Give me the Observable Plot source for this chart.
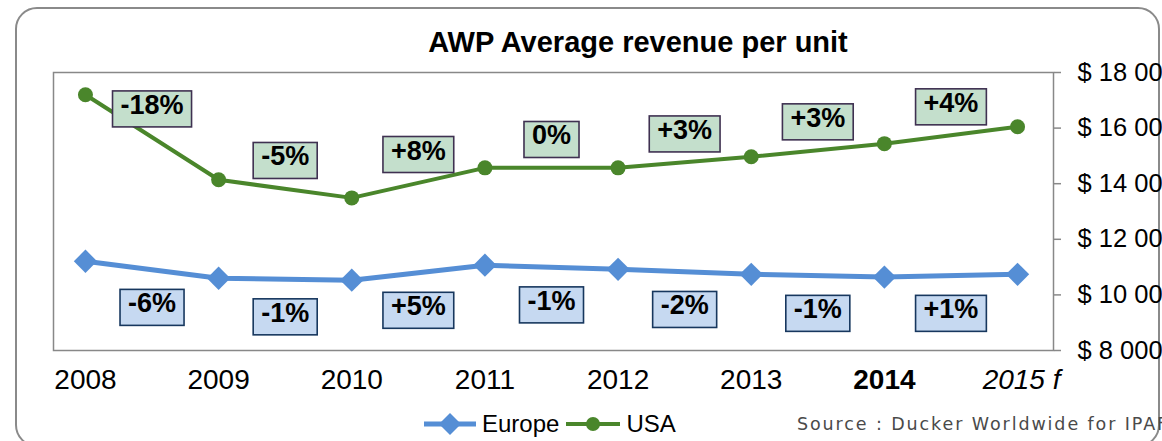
<!DOCTYPE html>
<html><head><meta charset="utf-8">
<script src="https://cdn.jsdelivr.net/npm/d3@7"></script>
<script src="https://cdn.jsdelivr.net/npm/@observablehq/plot@0.6"></script>
<style>
html,body{margin:0;padding:0;background:#fff;overflow:hidden;}
#wrap{position:relative;width:1162px;height:441px;font-family:"Liberation Sans",Arial,sans-serif;overflow:hidden;}
#wrap svg{position:absolute;left:0;top:0;}
#border{position:absolute;left:15px;top:7px;width:1145px;height:440px;border:2px solid #8a8a8a;border-radius:22px;box-sizing:border-box;}
#title{position:absolute;left:638px;top:28px;transform:translateX(-50%);font-size:29px;line-height:29px;font-weight:bold;white-space:nowrap;color:#000;}
#legend{position:absolute;left:423px;top:410px;height:28px;display:flex;align-items:center;font-size:24px;color:#000;white-space:nowrap;}
#legend .item{display:flex;align-items:center;margin-right:6px;}
#legend svg{position:static;margin-right:5px;}
#source{position:absolute;left:797px;top:414px;font-family:"DejaVu Sans",sans-serif;font-size:17.5px;line-height:20px;letter-spacing:1.9px;color:#4a4a4a;white-space:nowrap;}
</style></head>
<body>
<div id="wrap">
  <div id="border"></div>
  <div id="title">AWP Average revenue per unit</div>
  <div id="legend"></div>
  <div id="source">Source : Ducker Worldwide for IPAF</div>
</div>
<script>
const years = [2008, 2009, 2010, 2011, 2012, 2013, 2014, 2015];
const yearLabels = ["2008", "2009", "2010", "2011", "2012", "2013", "2014", "2015 f"];
const europe = [11210, 10600, 10530, 11070, 10920, 10740, 10640, 10740];
const usa = [17200, 14140, 13490, 14570, 14570, 14970, 15440, 16050];
const europeChanges = ["-6%", "-1%", "+5%", "-1%", "-2%", "-1%", "+1%"];
const usaChanges = ["-18%", "-5%", "+8%", "0%", "+3%", "+3%", "+4%"];
const yTicks = [8000, 10000, 12000, 14000, 16000, 18000];
const seriesNames = ["Europe", "USA"];

const BLUE = "#558ed5", GREEN = "#4a862b";

const rows = [];
years.forEach((y, i) => {
  rows.push({year: y, label: yearLabels[i], series: "Europe", value: europe[i]});
  rows.push({year: y, label: yearLabels[i], series: "USA", value: usa[i]});
});
const eu = rows.filter(d => d.series === "Europe");
const us = rows.filter(d => d.series === "USA");
const mids = (vals, labels) => labels.map((t, i) => ({x: years[i] + 0.5, y: (vals[i] + vals[i + 1]) / 2, text: t}));
const usMid = mids(usa, usaChanges);
const euMid = mids(europe, europeChanges);

const fmt = d => "$ " + d3.format(",")(d).replace(/,/g, " ");
const font = "Liberation Sans, Arial, sans-serif";

const chart = Plot.plot({
  width: 1162,
  height: 441,
  marginLeft: 53,
  marginRight: 109,
  marginTop: 72,
  marginBottom: 91,
  style: {fontFamily: font, background: "transparent", overflow: "visible"},
  x: {type: "linear", domain: [2007.76, 2015.27], axis: null},
  y: {domain: [8000, 18000], axis: null},
  marks: [
    Plot.frame({stroke: "#888", strokeWidth: 1.5}),
    Plot.axisY({anchor: "right", ticks: yTicks, tickFormat: fmt, tickSize: 7, tickPadding: 17,
      fontSize: 25.5, stroke: "#888", strokeWidth: 1.5, color: "#000", label: null}),
    Plot.text(rows.filter(d => d.series === "USA" && d.year < 2014), {x: "year", text: "label", frameAnchor: "bottom", dy: 38, fontSize: 28, fill: "#000"}),
    Plot.text(rows.filter(d => d.series === "USA" && d.year === 2014), {x: "year", text: "label", frameAnchor: "bottom", dy: 38, fontSize: 28, fontWeight: "bold", fill: "#000"}),
    Plot.text(rows.filter(d => d.series === "USA" && d.year === 2015), {x: "year", text: "label", frameAnchor: "bottom", dy: 38, dx: 4, fontSize: 28, fontStyle: "italic", fill: "#000"}),
    Plot.line(eu, {x: "year", y: "value", stroke: BLUE, strokeWidth: 5}),
    Plot.dot(eu, {x: "year", y: "value", symbol: "diamond2", r: 10.5, fill: BLUE, stroke: "none"}),
    Plot.line(us, {x: "year", y: "value", stroke: GREEN, strokeWidth: 4}),
    Plot.dot(us, {x: "year", y: "value", r: 7.5, fill: GREEN, stroke: "none"}),
    Plot.text(usMid, {x: "x", y: "y", text: "text", dy: -32, fontSize: 27, fontWeight: "bold", fill: "#000"}),
    Plot.text(euMid, {x: "x", y: "y", text: "text", dy: 34, fontSize: 27, fontWeight: "bold", fill: "#000"})
  ]
});
document.getElementById("wrap").insertBefore(chart, document.getElementById("title"));

function boxLabels(group, fill, stroke) {
  group.querySelectorAll("text").forEach(t => {
    const b = t.getBBox();
    const r = document.createElementNS("http://www.w3.org/2000/svg", "rect");
    r.setAttribute("x", b.x - 8);
    r.setAttribute("y", b.y + 1);
    r.setAttribute("width", b.width + 16);
    r.setAttribute("height", b.height + 6);
    r.setAttribute("fill", fill);
    r.setAttribute("stroke", stroke);
    r.setAttribute("stroke-width", 1.6);
    const tr = t.getAttribute("transform");
    if (tr) r.setAttribute("transform", tr);
    t.parentNode.insertBefore(r, t);
  });
}
const labelGroups = Array.from(chart.querySelectorAll("g")).filter(g => g.getAttribute("font-size") === "27");
if (labelGroups[0]) boxLabels(labelGroups[0], "#c4dfcc", "#3f3151");
if (labelGroups[1]) boxLabels(labelGroups[1], "#c6d9f1", "#17375e");

// legend
const legend = document.getElementById("legend");
const sw = {
  Europe: `<svg width="54" height="24"><line x1="1" y1="12" x2="53" y2="12" stroke="${BLUE}" stroke-width="5"/><path d="M27 1 L38 12 L27 23 L16 12 Z" fill="${BLUE}"/></svg>`,
  USA: `<svg width="56" height="24"><line x1="1" y1="12" x2="55" y2="12" stroke="${GREEN}" stroke-width="4"/><circle cx="28" cy="12" r="7" fill="${GREEN}"/></svg>`
};
seriesNames.forEach(n => {
  const d = document.createElement("div");
  d.className = "item";
  d.innerHTML = sw[n] + `<span>${n}</span>`;
  legend.appendChild(d);
});
</script>
</body></html>
